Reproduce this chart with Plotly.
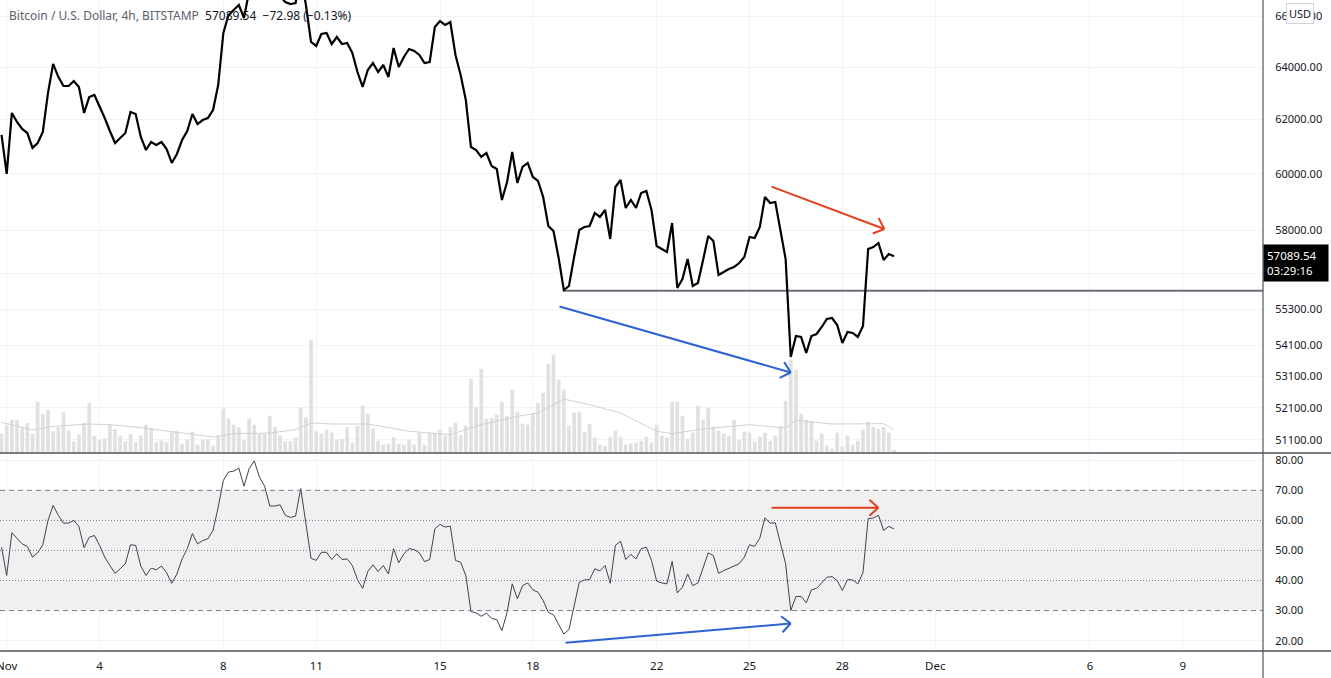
import math
import pandas as pd
import plotly.graph_objects as go

# ---------------- data ----------------
start_time = "2021-10-31 20:00"   # first 4h candle

price = [
    61430, 60000, 62250, 61910, 61650, 61500, 60950, 61130, 61540, 63000,
    64120, 63620, 63270, 63270, 63460, 63230, 62250, 62850, 62930, 62510,
    62060, 61575, 61130, 61315, 61500, 62285, 62210, 61352, 60873, 61167,
    61057, 61167, 60910, 60398, 60727, 61241, 61575, 62210, 61836, 61985,
    62060, 62360, 63309, 65327, 66040, 66240, 66440, 65920,
    67000, 67550, 67200, 67000, 66800, 66850, 66800, 66560, 66480, 66520, 67600, 66450,
    64975, 64818, 65288, 65327, 64895, 65170, 64895, 64935, 64543, 63807,
    63233, 63884, 64155, 63807, 64078, 63615, 64738, 64000, 64388, 64699,
    64621, 64466, 64155, 64193, 65563, 65801, 65643, 65761, 64466,
    63692, 62738, 60983, 60873, 60617, 60763, 60289, 60180, 59064, 59709,
    60800, 59673, 60252, 60398, 59890, 59745, 59171, 58144, 57969, 57032,
    55941, 56076, 57066, 58004, 58109, 58144, 58602, 58461, 58708, 57690,
    59529, 59781, 58779, 59064, 58779, 59314, 59385, 58708, 57447, 57343,
    57239, 58250, 56008, 56314, 56997, 56076, 56178, 56963, 57794, 57620,
    56450, 56552, 56655, 56723, 56860, 57066, 57759, 57724, 58109, 59171,
    58957, 58993, 58004, 56997, 53725, 54410, 54377, 53855, 54410, 54476,
    54706, 54971, 55004, 54772, 54181, 54541, 54508, 54377, 54739, 57343,
    57412, 57551, 56963, 57169, 57089.54,
]

rsi = [
    51.1, 41.7, 55.9, 53.9, 52.2, 51.3, 47.8, 49.2, 51.9, 60.0,
    65.0, 61.7, 59.1, 59.1, 60.0, 58.0, 50.9, 54.4, 55.0, 51.7,
    47.8, 45.0, 42.4, 43.9, 45.6, 51.9, 51.7, 44.8, 41.7, 44.1,
    43.6, 44.8, 42.6, 39.1, 42.2, 47.2, 50.6, 55.6, 52.2, 53.3,
    53.9, 56.7, 64.4, 73.3, 76.1, 76.4, 77.4, 71.4, 77.2, 79.8,
    74.4, 71.4, 64.8, 64.8, 65.2, 61.7, 61.0, 61.4,
    70.6, 59.0, 47.4, 46.7, 49.4, 49.4, 47.0, 48.9, 47.0, 47.2,
    45.0, 40.3, 37.4, 43.0, 45.2, 43.0, 45.0, 42.2, 50.6, 45.9,
    48.9, 50.6, 50.3, 49.2, 46.3, 47.0, 57.2, 58.7, 57.8, 58.1,
    46.7, 46.1, 41.7, 29.7, 29.2, 28.1, 29.2, 27.4, 27.0, 23.3,
    29.4, 38.9, 33.9, 38.3, 39.2, 36.9, 36.1, 33.3, 29.4, 28.6,
    25.6, 22.2, 23.7, 31.7, 39.4, 40.2, 40.3, 43.9, 43.2,
    45.0, 39.1, 51.7, 53.1, 47.0, 48.7, 47.2, 50.6, 51.1, 46.7,
    39.8, 39.2, 38.9, 46.4, 35.9, 37.8, 42.2, 38.3, 39.2, 44.1,
    49.2, 48.3, 42.4, 43.3, 44.1, 44.8, 45.6, 47.8, 51.9, 51.4,
    54.1, 60.9, 59.1, 59.2, 52.8, 45.6, 30.0, 34.7, 34.7, 32.6,
    36.9, 37.4, 39.2, 41.1, 41.3, 40.0, 36.7, 40.3, 40.2, 38.9,
    42.6, 60.6, 60.8, 61.7, 56.7, 58.0, 57.2,
]

volume = [
    483, 708, 833, 833, 650, 750, 483, 1283, 983, 1083,
    543, 650, 1018, 558, 293, 458, 750, 1258, 433, 318,
    358, 725, 600, 433, 293, 475, 268, 433, 708, 633,
    268, 318, 268, 518, 558, 233, 333, 533, 208, 318,
    350, 183, 433, 1108, 858, 708, 643, 318, 858, 708,
    483, 483, 933, 650, 433, 293, 293, 393, 1143, 893,
    2833, 543, 483, 583, 518, 333, 350, 643, 250, 683,
    1183, 983, 618, 308, 208, 225, 393, 233, 208, 333,
    208, 500, 208, 500, 500, 583, 433, 650,
    750, 443, 683, 1858, 1143, 2108, 858, 883, 958, 1283,
    933, 1583, 1033, 733, 708, 983, 1258, 1508, 2233, 2458,
    1833, 1583, 683, 1008, 1033, 533, 725, 383, 208, 183,
    408, 558, 408, 208, 233, 258, 308, 408, 258, 708,
    433, 383, 1283, 1283, 933, 358, 508, 1183, 833, 1133,
    658, 558, 483, 433, 833, 333, 533, 508, 283, 408,
    508, 308, 433, 683, 1308, 2333, 2083, 983, 833, 808,
    308, 483, 183, 108, 508, 158, 433, 208, 308, 583,
    783, 658, 608, 658, 508, 83,
]

# volume moving average, sampled at candle indices
vol_ma_index = [0, 6, 10, 17, 21, 26, 36, 41, 45, 52, 57, 60, 64, 71, 79, 87,
                93, 100, 104, 109, 114, 120, 127, 130, 136, 145, 152, 154, 161, 171, 173]
vol_ma = [768, 575, 668, 725, 708, 650, 483, 400, 483, 500, 583, 750, 725, 725, 543, 458,
          708, 918, 1000, 1350, 1208, 1000, 543, 483, 600, 708, 625, 818, 725, 733, 583]

date_ticks = ["2021-11-01", "2021-11-04", "2021-11-08", "2021-11-11", "2021-11-15",
              "2021-11-18", "2021-11-22", "2021-11-25", "2021-11-28", "2021-12-01",
              "2021-12-06", "2021-12-09"]
date_labels = ["Nov", "4", "8", "11", "15", "18", "22", "25", "28", "Dec", "6", "9"]

price_ticks = [51100, 52100, 53100, 54100, 55300, 56500, 58000, 60000, 62000, 64000, 66000]
price_labels = ["51100.00", "52100.00", "53100.00", "54100.00", "55300.00", "",
                "58000.00", "60000.00", "62000.00", "64000.00", "66000.00"]

rsi_ticks = [20, 30, 40, 50, 60, 70, 80]
rsi_labels = ["20.00", "30.00", "40.00", "50.00", "60.00", "70.00", "80.00"]

support_level = 55920
support_start_index = 109

# drawn trend arrows: (tail time, tail value, tip time, tip value)
price_red_arrow = ("2021-11-25 15:53", 59565, "2021-11-29 08:31", 58040)
price_blue_arrow = ("2021-11-18 19:30", 55404, "2021-11-26 07:57", 53224)
rsi_red_arrow = ("2021-11-25 15:53", 64.2, "2021-11-29 03:53", 64.2)
rsi_blue_arrow = ("2021-11-19 00:10", 19.3, "2021-11-26 07:57", 25.7)

title_main = "Bitcoin / U.S. Dollar, 4h, BITSTAMP"
title_last = "57089.54"
title_change = "−72.98 (−0.13%)"
last_label = "57089.54"
countdown_label = "03:29:16"

# ---------------- figure ----------------
times = pd.date_range(start_time, periods=len(price), freq="4h")
ma_times = [times[i] for i in vol_ma_index]

X_RANGE = ["2021-10-31 18:48", "2021-12-11 14:11"]
P_RANGE = [math.log10(50700), math.log10(66641)]
R_RANGE = [16.56, 82.43]
PLOT_W, PRICE_H, RSI_H = 1263, 453, 198
SPLIT = RSI_H / (PRICE_H + RSI_H)   # paper y of the pane separator
FONT = "Noto Sans"
GRID = "#f0f3fa"
FRAME = "#50535e"
AX_EXT = 1331 / PLOT_W     # right end of the price-scale column (paper units)
BOTTOM = -27 / (PRICE_H + RSI_H)

T0, T1 = pd.Timestamp(X_RANGE[0]), pd.Timestamp(X_RANGE[1])


def px_x(t):
    return (pd.Timestamp(t) - T0) / (T1 - T0) * PLOT_W


def px_price(p):
    return (P_RANGE[1] - math.log10(p)) / (P_RANGE[1] - P_RANGE[0]) * PRICE_H


def px_rsi(r):
    return PRICE_H + (R_RANGE[1] - r) / (R_RANGE[1] - R_RANGE[0]) * RSI_H


fig = go.Figure()

fig.add_trace(go.Bar(x=times, y=volume, yaxis="y", marker=dict(color="#e1e1e1", line=dict(width=0)),
                     hoverinfo="skip"))
fig.add_trace(go.Scatter(x=ma_times, y=vol_ma, yaxis="y", mode="lines",
                         line=dict(color="#d2d2d2", width=1), hoverinfo="skip"))
fig.add_trace(go.Scatter(x=[times[support_start_index], X_RANGE[1]], y=[support_level, support_level],
                         yaxis="y3", mode="lines", line=dict(color="#6b6e79", width=2), hoverinfo="skip"))
fig.add_trace(go.Scatter(x=times, y=price, yaxis="y3", mode="lines",
                         line=dict(color="#000000", width=2.2), hoverinfo="skip"))
fig.add_trace(go.Scatter(x=times, y=rsi, yaxis="y2", mode="lines",
                         line=dict(color="#3f4251", width=1), hoverinfo="skip"))

shapes = [
    dict(type="rect", xref="paper", yref="y2", x0=0, x1=1, y0=30, y1=70,
         fillcolor="rgba(0,0,0,0.06)", line=dict(width=0), layer="below"),
]
for lvl in (70, 30):
    shapes.append(dict(type="line", xref="paper", yref="y2", x0=0, x1=1, y0=lvl, y1=lvl,
                       line=dict(color="#787b86", width=1, dash="5px,4px")))
for lvl in (60, 50, 40):
    shapes.append(dict(type="line", xref="paper", yref="y2", x0=0, x1=1, y0=lvl, y1=lvl,
                       line=dict(color="#787b86", width=1, dash="1px,2px")))
# frame: pane separator, bottom line, price-scale border
shapes += [
    dict(type="line", xref="paper", yref="paper", x0=0, x1=AX_EXT, y0=SPLIT, y1=SPLIT,
         line=dict(color=FRAME, width=1.5)),
    dict(type="line", xref="paper", yref="paper", x0=0, x1=AX_EXT, y0=0, y1=0,
         line=dict(color=FRAME, width=1.5)),
    dict(type="line", xref="paper", yref="paper", x0=1, x1=1, y0=BOTTOM, y1=1,
         line=dict(color=FRAME, width=1.2)),
]

annotations = []


def arrow(spec, yref, log, color):
    tx, tyv, hx, hyv = spec
    ty = math.log10(tyv) if log else tyv
    hy = math.log10(hyv) if log else hyv
    out = [dict(x=hx, y=hy, xref="x", yref=yref, ax=tx, ay=ty, axref="x", ayref=yref,
                text="", showarrow=True, arrowhead=0, arrowwidth=2,
                arrowcolor=color, standoff=0)]
    # open chevron head: two short strokes back from the tip
    to_px = px_price if log else px_rsi
    dx = px_x(tx) - px_x(hx)
    dy = to_px(tyv) - to_px(hyv)
    n = math.hypot(dx, dy)
    ux, uy = dx / n, dy / n
    L, th = 14, math.radians(42)
    for s in (1, -1):
        c, sn = math.cos(s * th), math.sin(s * th)
        vx, vy = ux * c - uy * sn, ux * sn + uy * c
        out.append(dict(x=hx, y=hy, xref="x", yref=yref, ax=vx * L, ay=vy * L,
                        axref="pixel", ayref="pixel", text="", showarrow=True,
                        arrowhead=0, arrowwidth=2, arrowcolor=color, standoff=0))
    return out


annotations += arrow(price_red_arrow, "y3", True, "#e5411f")
annotations += arrow(price_blue_arrow, "y3", True, "#2f62d2")
annotations += arrow(rsi_red_arrow, "y2", False, "#e5411f")
annotations += arrow(rsi_blue_arrow, "y2", False, "#2f62d2")

annotations.append(dict(
    xref="paper", yref="paper", x=7 / PLOT_W, y=(651 - 15) / 651, xanchor="left", yanchor="middle",
    showarrow=False, font=dict(family=FONT, size=12, color="#131722"),
    text=(f"<span style='color:#5d606b'>{title_main}</span>&nbsp;&nbsp;{title_last}"
          f"&nbsp;&nbsp;{title_change}")))
annotations.append(dict(
    xref="paper", yref="paper", x=1300 / PLOT_W, y=(651 - 14) / 651, xanchor="center", yanchor="middle",
    showarrow=False, text="USD", font=dict(family=FONT, size=11, color="#131722"),
    bgcolor="#ffffff", bordercolor="#d1d4dc", borderwidth=1, borderpad=2))
annotations.append(dict(
    xref="paper", yref="paper", x=1, y=(651 - 263) / 651, xanchor="left", yanchor="middle",
    showarrow=False, text=f"{last_label}<br>{countdown_label}", align="left",
    font=dict(family=FONT, size=11.5, color="#ffffff"), bgcolor="#000000", borderpad=3, width=58))

tickfont = dict(family=FONT, size=11, color="#131722")
fig.update_layout(
    width=1331, height=678, autosize=False,
    margin=dict(l=0, r=68, t=0, b=27, pad=0, autoexpand=False),
    paper_bgcolor="#ffffff", plot_bgcolor="#ffffff",
    showlegend=False, hovermode=False, bargap=0.28,
    font=dict(family=FONT, size=11, color="#131722"),
    xaxis=dict(type="date", range=X_RANGE, anchor="y2", tickvals=date_ticks, ticktext=date_labels,
               showgrid=True, gridcolor=GRID, gridwidth=1, zeroline=False, showline=False,
               ticks="outside", ticklen=4, tickcolor="rgba(0,0,0,0)", ticklabeloverflow="allow",
               automargin=False,
               tickfont=dict(family=FONT, size=11.5, color="#131722"), fixedrange=True),
    yaxis=dict(domain=[SPLIT, 1], range=[0, PRICE_H * 25], visible=False, showgrid=False,
               automargin=False, fixedrange=True),
    yaxis3=dict(overlaying="y", side="right", type="log", range=P_RANGE,
                tickvals=price_ticks, ticktext=price_labels, showgrid=True, gridcolor=GRID,
                zeroline=False, showline=False, ticks="outside", ticklen=9, automargin=False,
                tickcolor="rgba(0,0,0,0)", tickfont=tickfont, fixedrange=True),
    yaxis2=dict(domain=[0, SPLIT], range=R_RANGE, side="right",
                tickvals=rsi_ticks, ticktext=rsi_labels, showgrid=True, gridcolor=GRID,
                zeroline=False, showline=False, ticks="outside", ticklen=9, automargin=False,
                tickcolor="rgba(0,0,0,0)", tickfont=tickfont, fixedrange=True),
    shapes=shapes,
    annotations=annotations,
)

fig.write_html("out.html", config={"displayModeBar": False},
               post_script="document.body.style.margin='0';document.body.style.overflow='hidden';")
